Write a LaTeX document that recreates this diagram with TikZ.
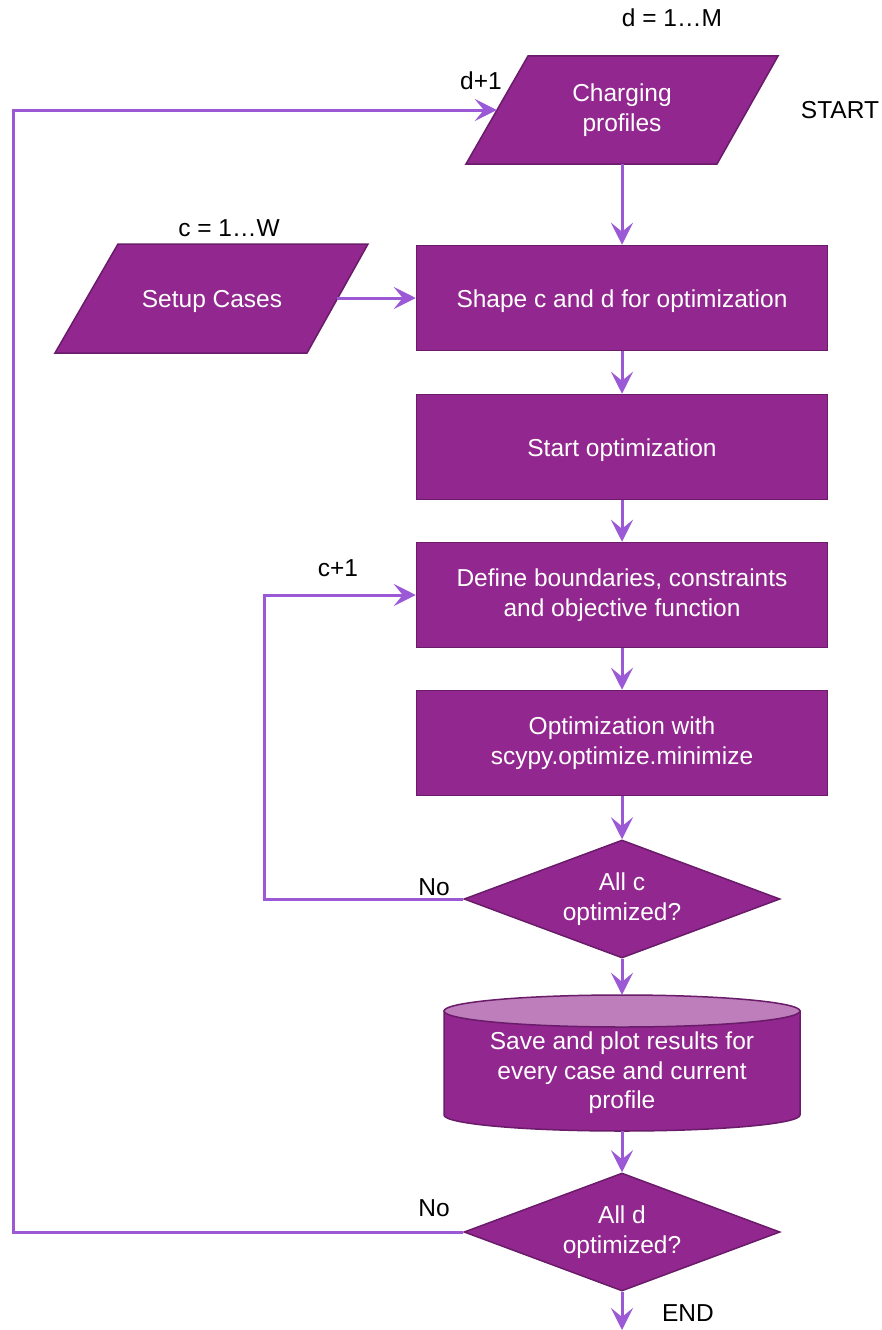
\documentclass[tikz,border=0pt]{standalone}
\usepackage{fontspec}
\setmainfont{Liberation Sans}
\usetikzlibrary{shapes.geometric,arrows.meta}
\definecolor{pfill}{HTML}{92278F}
\definecolor{pdraw}{HTML}{6A1B69}
\definecolor{parrow}{HTML}{9B59D6}
\definecolor{ptop}{HTML}{BE7DBB}
\begin{document}
\begin{tikzpicture}[x=1pt,y=-1pt,
  font=\fontsize{24.5}{29.5}\selectfont,
  shapefill/.style={fill=pfill, draw=pdraw, line width=1.5pt},
  proc/.style={rectangle, shapefill, text=white, align=center,
    minimum width=411pt, minimum height=105pt, inner sep=0pt,
    execute at begin node={\rule{0pt}{24pt}}},
  io/.style={rectangle, text=white, align=center,
    minimum width=250pt, minimum height=108pt, inner sep=0pt,
    execute at begin node={\rule{0pt}{24pt}}},
  mline/.style={execute at begin node={\rule{0pt}{30pt}}},
  dec/.style={diamond, aspect=2.68, shapefill, text=white, align=center,
    minimum width=316pt, minimum height=118pt, inner sep=0pt},
  arr/.style={draw=parrow, line width=3pt, -{Stealth[length=22pt,width=22pt,inset=9pt]}},
  lab/.style={text=black, inner sep=0pt}]
\useasboundingbox (0,0) rectangle (882,1330);

% parallelogram outlines (input shapes)
\draw[shapefill] (466,164) -- (528,56) -- (778,56) -- (717,164) -- cycle;
\draw[shapefill] (55,353) -- (118,244) -- (368,244) -- (307,353) -- cycle;

% nodes
\node[io, mline] (cp) at (622,110) {Charging\\profiles};
\node[io] (sc) at (212,298) {Setup Cases};
\node[proc] (shape) at (622,298) {Shape c and d for optimization};
\node[proc] (start) at (622,447) {Start optimization};
\node[proc, mline] (def) at (622,595) {Define boundaries, constraints\\and objective function};
\node[proc, mline] (opt) at (622,743) {Optimization with\\scypy.optimize.minimize};
\node[dec] (d1) at (622,899) {All c\\optimized?};
\node[dec] (d2) at (622,1232) {All d\\optimized?};

% cylinder
\node[inner sep=0pt, minimum width=356pt, minimum height=136pt] (sv) at (622,1063) {};
\path[shapefill] (444,1011) -- (444,1115)
  arc[start angle=180, end angle=360, x radius=178pt, y radius=16pt] -- (800,1011) -- cycle;
\draw[fill=ptop, draw=pdraw, line width=1.5pt] (622,1011) ellipse [x radius=178pt, y radius=16pt];
\node[text=white, align=center, inner sep=0pt] (svt) at (622,1073) {Save and plot results for\\every case and current\\profile};

% labels
\node[lab] (lm) at (672,18) {d = 1…M};
\node[lab] (lw) at (229,228) {c = 1…W};
\node[lab] (lstart) at (840,110) {START};
\node[lab] (lend) at (688,1313) {END};
\node[lab] (ld) at (481,81) {d+1};
\node[lab] (lc) at (338,568) {c+1};
\node[lab] (lno1) at (434,887) {No};
\node[lab] (lno2) at (434,1208) {No};

% connectors
\coordinate (cl) at (264,899);
\coordinate (dl) at (13,1232);
\coordinate (endc) at (622,1330);
\draw[arr] (cp.south) -- (shape.north);
\draw[arr] (sc.east) -- (shape.west);
\draw[arr] (shape.south) -- (start.north);
\draw[arr] (start.south) -- (def.north);
\draw[arr] (def.south) -- (opt.north);
\draw[arr] (opt.south) -- (d1.north);
\draw[arr] (d1.south) -- (sv.north);
\draw[arr] (sv.south) -- (d2.north);
\draw[arr] (d2.south) -- (endc);
\draw[arr] (d1.west) -- (cl) |- (def.west);
\draw[arr] (d2.west) -- (dl) |- (cp.west);
\end{tikzpicture}
\end{document}
